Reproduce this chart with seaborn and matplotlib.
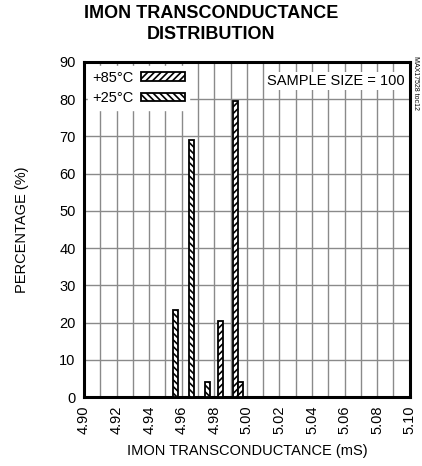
import matplotlib
matplotlib.use("Agg")
import matplotlib.pyplot as plt
import matplotlib.patches as mpatches
import numpy as np
import pandas as pd
import seaborn as sns

# values
temps_25 = ["+25°C", "+25°C", "+25°C"]
x_25 = [4.956, 4.966, 4.976]
pct_25 = [23.5, 69.0, 4.0]

temps_85 = ["+85°C", "+85°C", "+85°C"]
x_85 = [4.984, 4.993, 4.996]
pct_85 = [20.5, 79.5, 4.0]

x_ticks = [4.90, 4.92, 4.94, 4.96, 4.98, 5.00, 5.02, 5.04, 5.06, 5.08, 5.10]
y_ticks = [0, 10, 20, 30, 40, 50, 60, 70, 80, 90]

df = pd.DataFrame({
    "temp": temps_85 + temps_25,
    "gm": x_85 + x_25,
    "pct": pct_85 + pct_25,
})

sns.set_theme(style="white")
plt.rcParams["font.family"] = ["Liberation Sans", "DejaVu Sans"]
plt.rcParams["hatch.linewidth"] = 1.2
plt.rcParams["text.color"] = "black"
plt.rcParams["axes.labelcolor"] = "black"

fig = plt.figure(figsize=(4.22, 4.66), dpi=100)
ax = fig.add_axes([0.199, 0.148, 0.772, 0.719])

hatches = {"+85°C": "/////", "+25°C": "\\\\\\\\\\"}
sns.barplot(data=df, x="gm", y="pct", hue="temp", hue_order=["+85°C", "+25°C"],
            native_scale=True, dodge=False, width=0.95, legend=False,
            palette=["white", "white"], edgecolor="black", linewidth=1.3, ax=ax)
for cont, level in zip(ax.containers, ["+85°C", "+25°C"]):
    for p in cont:
        p.set_hatch(hatches[level])
        p.set_zorder(3)

ax.set_xlim(4.90, 5.10)
ax.set_ylim(0, 90)
ax.set_xticks(x_ticks)
ax.set_xticklabels([f"{v:.2f}" for v in x_ticks], rotation=90)
ax.set_xticks(np.arange(4.91, 5.10, 0.02), minor=True)
ax.set_yticks(y_ticks)
ax.grid(True, which="both", axis="x", color="#8a8a8a", linewidth=1.0, zorder=0)
ax.grid(True, which="major", axis="y", color="#8a8a8a", linewidth=1.0, zorder=0)
ax.set_axisbelow(True)
ax.tick_params(which="both", length=0, labelsize=10.5, colors="black", pad=6)
for s in ax.spines.values():
    s.set_visible(True)
    s.set_color("black")
    s.set_linewidth(2.2)

ax.set_xlabel("IMON TRANSCONDUCTANCE (mS)", fontsize=10.5, labelpad=7, color="black")
ax.set_ylabel("PERCENTAGE (%)", fontsize=10.5, labelpad=22, color="black")
fig.suptitle("IMON TRANSCONDUCTANCE\nDISTRIBUTION", fontsize=13, fontweight="bold",
             y=0.99, linespacing=1.3, color="black")

handles = [mpatches.Patch(facecolor="white", edgecolor="black", hatch=hatches[k],
                          linewidth=1.3) for k in ["+85°C", "+25°C"]]
leg = ax.legend(handles, ["+85°C", "+25°C"], loc="upper left", markerfirst=False,
                frameon=True, fancybox=False, framealpha=1, edgecolor="white",
                fontsize=10.5, handlelength=3.0, handleheight=0.5, handletextpad=0.5,
                borderpad=0.3, labelspacing=0.45, borderaxespad=0.3)
for t in leg.get_texts():
    t.set_color("black")
leg.set_zorder(5)

ax.text(0.985, 0.965, "SAMPLE SIZE = 100", transform=ax.transAxes, ha="right", va="top",
        fontsize=10.5, zorder=5, color="black",
        bbox=dict(facecolor="white", edgecolor="none", pad=1.5))

fig.text(0.985, 0.88, "MAX17528 toc12", rotation=-90, fontsize=5, ha="center", va="top")

fig.savefig("out.png", dpi=100)
